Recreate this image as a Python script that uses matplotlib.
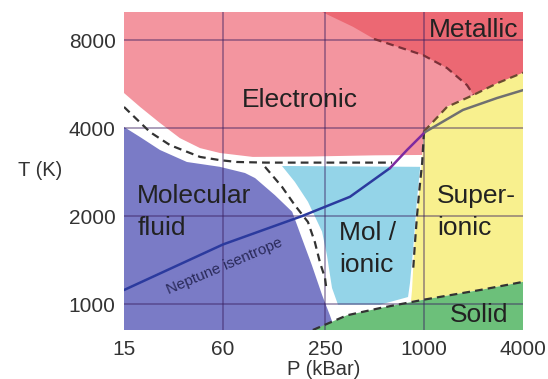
import matplotlib
matplotlib.use('Agg')
import matplotlib.pyplot as plt

plt.rcParams['font.family'] = ['Liberation Sans', 'DejaVu Sans']

# ---------------- data (P in kBar, T in K) ----------------
p_ticks = [15, 60, 250, 1000, 4000]
t_ticks = [1000, 2000, 4000, 8000]
p_range = [15, 4000]
t_range = [815, 10000]

# Electronic (pink) lower boundary, left -> right
elec_P = [15, 18.8, 24.8, 32.8, 43.5, 57.5, 91, 200, 500, 975]
elec_T = [5280, 4730, 4170, 3700, 3420, 3290, 3190, 3200, 3230, 3240]

# Super-ionic upper boundary (dashed), from the triple point to the right edge
sup_top_P = [1000, 1380, 2000, 2780, 4000]
sup_top_T = [3900, 4730, 5200, 5700, 6200]

# Metallic boundary (top edge -> super-ionic line); dashed from 3rd point on
met_P = [240, 370, 497, 987, 1380, 1826, 2000]
met_T = [10000, 8900, 8085, 7120, 6430, 5620, 5200]

# Molecular fluid (purple) region outline
mol_P = [15, 15, 18.8, 24.8, 36.2, 57.5, 81.6, 94, 124, 158, 181, 208, 240, 268, 288]
mol_T = [815, 4040, 3730, 3370, 3065, 2950, 2810, 2700, 2360, 2070, 1680, 1360, 1075, 915, 815]

# Dashed boundary electronic / molecular
upper_dash_P = [15, 21.6, 28.6, 43.5, 57.5, 73, 110, 200, 400, 640]
upper_dash_T = [4730, 3880, 3500, 3190, 3110, 3065, 3050, 3050, 3050, 3050]

# Dashed boundary molecular / mol-ionic
diag_P = [108, 137, 164, 197, 217, 233, 250, 256]
diag_T = [2950, 2520, 2180, 1910, 1630, 1390, 1230, 1110]

# Mol / ionic (light blue) region outline
molion_P = [137, 164, 197, 240, 257, 276, 300, 541, 800, 822, 858, 906, 946, 946]
molion_T = [2970, 2620, 2240, 1770, 1470, 1135, 995, 995, 1057, 1180, 1530, 2270, 2900, 2950]

# Dashed boundary mol-ionic / super-ionic
ion_dash_P = [1000, 975, 940, 906, 880, 860]
ion_dash_T = [3900, 3050, 2500, 1990, 1600, 1320]

# Super-ionic (yellow) left edge
sup_left_P = [1000, 987, 946, 882, 846, 834]
sup_left_T = [3900, 3370, 2600, 1750, 1117, 1025]

# Solid (green) upper boundary (dashed)
solid_top_P = [211, 340, 541, 987, 2190, 4000]
solid_top_T = [815, 915, 969, 1034, 1117, 1191]

# Neptune isentrope
isen_P = [15, 60, 181, 355, 621, 789, 1014, 1725, 2780, 4000]
isen_T = [1117, 1600, 2000, 2330, 2920, 3370, 3880, 4620, 5075, 5400]

# ---------------- colours ----------------
c_elec = '#f3959f'
c_met = '#ec6873'
c_mol = '#7a7bc6'
c_molion = '#94d4e8'
c_sup = '#f8f08e'
c_solid = '#6cc07a'
c_dash = '#333333'
c_text = '#222222'

fig = plt.figure(figsize=(5.48, 3.79), dpi=100)
ax = fig.add_axes([124 / 548, 49 / 379, 399 / 548, 318 / 379])
ax.set_xscale('log')
ax.set_yscale('log')
ax.set_xlim(*p_range)
ax.set_ylim(*t_range)

# Electronic region
eP = [p_range[0], p_range[1]] + sup_top_P[::-1] + [elec_P[-1]] + elec_P[::-1]
eT = [t_range[1], t_range[1]] + sup_top_T[::-1] + [elec_T[-1]] + elec_T[::-1]
ax.fill(eP, eT, color=c_elec, lw=0, zorder=1)

# Metallic region
mP = met_P + sup_top_P[3:] + [p_range[1]]
mT = met_T + sup_top_T[3:] + [t_range[1]]
ax.fill(mP, mT, color=c_met, lw=0, zorder=1.1)

# Molecular fluid
ax.fill(mol_P, mol_T, color=c_mol, lw=0, zorder=1)

# Mol / ionic
ax.fill(molion_P, molion_T, color=c_molion, lw=0, zorder=1)

# Super-ionic
yP = sup_left_P + [p for p in solid_top_P if p > sup_left_P[-1]] + sup_top_P[:0:-1]
yT = sup_left_T + [t for p, t in zip(solid_top_P, solid_top_T) if p > sup_left_P[-1]] + sup_top_T[:0:-1]
ax.fill(yP, yT, color=c_sup, lw=0, zorder=1)

# Solid
ax.fill(solid_top_P + [p_range[1]], solid_top_T + [t_range[0]], color=c_solid, lw=0, zorder=1)

# grid
for p in p_ticks[1:-1]:
    ax.axvline(p, color='#3a2060', alpha=0.5, lw=1.2, zorder=1.5)
for t in t_ticks:
    ax.axhline(t, color='#3a2060', alpha=0.5, lw=1.2, zorder=1.5)

dash_kw = dict(lw=1.6, dashes=(3.5, 2.3), zorder=2)
ax.plot(upper_dash_P, upper_dash_T, color=c_dash, **dash_kw)
ax.plot(diag_P, diag_T, color=c_dash, **dash_kw)
ax.plot(ion_dash_P, ion_dash_T, color=c_dash, **dash_kw)
ax.plot(solid_top_P, solid_top_T, color=c_dash, **dash_kw)
ax.plot(sup_top_P, sup_top_T, color='#6a4a30', **dash_kw)
ax.plot(met_P[2:], met_T[2:], color='#7a3038', **dash_kw)

# isentrope: blue -> purple -> grey
ax.plot(isen_P[:5], isen_T[:5], color='#2b3a9e', lw=1.8, zorder=2.2, solid_capstyle='round')
ax.plot(isen_P[4:7], isen_T[4:7], color='#7d2aa0', lw=1.8, zorder=2.2, solid_capstyle='round')
ax.plot(isen_P[6:], isen_T[6:], color='#707070', lw=1.8, zorder=2.2, solid_capstyle='round')

ax.text(0.253, 0.200, 'Neptune isentrope', transform=ax.transAxes, rotation=23,
        rotation_mode='anchor', ha='center', va='center', fontsize=11, color='#2a2a5a')

lab = dict(transform=ax.transAxes, fontsize=19, color=c_text, va='baseline')
ax.text(0.441, 0.701, 'Electronic', ha='center', **lab)
ax.text(0.877, 0.921, 'Metallic', ha='center', **lab)
ax.text(0.033, 0.399, 'Molecular', ha='left', **lab)
ax.text(0.033, 0.299, 'fluid', ha='left', **lab)
ax.text(0.539, 0.283, 'Mol /', ha='left', **lab)
ax.text(0.539, 0.182, 'ionic', ha='left', **lab)
ax.text(0.784, 0.399, 'Super-', ha='left', **lab)
ax.text(0.784, 0.299, 'ionic', ha='left', **lab)
ax.text(0.817, 0.025, 'Solid', ha='left', **lab)

ax.set_xticks(p_ticks)
ax.set_xticklabels([str(p) for p in p_ticks])
ax.set_yticks(t_ticks)
ax.set_yticklabels([str(t) for t in t_ticks])
ax.minorticks_off()
ax.tick_params(length=0, labelsize=15, labelcolor='#333333')
ax.tick_params(axis='x', pad=7)
ax.tick_params(axis='y', pad=6)
for s in ax.spines.values():
    s.set_visible(False)

fig.text(40 / 548, 1 - 171 / 379, 'T (K)', ha='center', va='center', fontsize=14.5, color='#333333')
fig.text(287 / 548, 1 - 375 / 379, 'P (kBar)', ha='left', va='baseline', fontsize=14.5, color='#333333')

fig.savefig('out.png', dpi=100)
